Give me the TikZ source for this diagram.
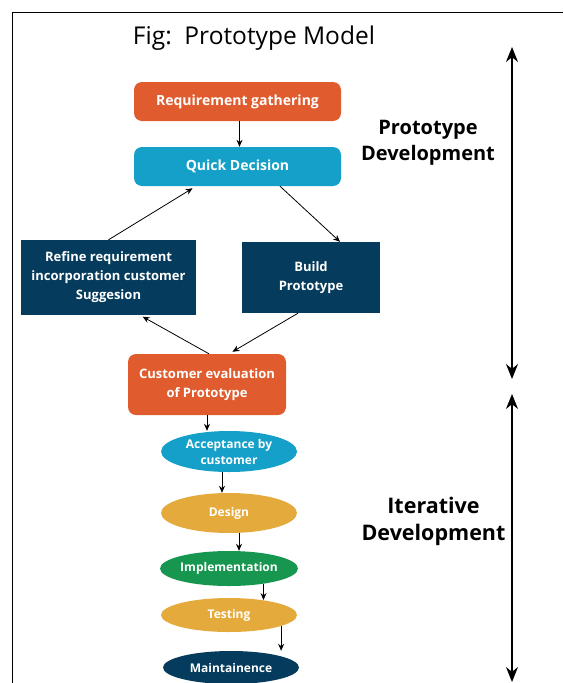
\documentclass[tikz,border=0pt]{standalone}
\usepackage{fontspec}
\setmainfont{Open Sans}
\usetikzlibrary{arrows.meta,shapes.geometric}
\definecolor{protoorange}{HTML}{E05C2E}
\definecolor{protocyan}{HTML}{14A0C8}
\definecolor{protonavy}{HTML}{053B5C}
\definecolor{protoyellow}{HTML}{E5AA3C}
\definecolor{protogreen}{HTML}{17964F}
\begin{document}
\begin{tikzpicture}[x=1pt,y=-1pt,
  stage/.style={rectangle,rounded corners=8pt,inner sep=0pt,text=white,
    font=\bfseries\fontsize{14}{19}\selectfont,align=center},
  block/.style={rectangle,fill=protonavy,inner sep=0pt,text=white,
    font=\bfseries\fontsize{13}{19}\selectfont,align=center},
  phase/.style={ellipse,minimum width=136pt,inner sep=0pt,text=white,
    font=\bfseries\fontsize{12}{16}\selectfont,align=center},
  flow/.style={-{Stealth[length=7pt,width=6pt]},line width=0.8pt},
  span/.style={{Stealth[length=15pt,width=12pt]}-{Stealth[length=15pt,width=12pt]},line width=1.3pt}]
\useasboundingbox (0,0) rectangle (563,683);
\draw[line width=1pt] (12,683) -- (12,12) -- (563,12);
\node (title) at (254,38) {\fontsize{24.5}{26}\selectfont Fig:\ \ Prototype Model};

% prototype development
\node[stage,fill=protoorange,minimum width=207pt,minimum height=39pt] (req) at (237.5,101.5) {Requirement gathering};
\node[stage,fill=protocyan,minimum width=207pt,minimum height=39pt] (quick) at (237.5,166.5) {Quick Decision};
\node[block,minimum width=175pt,minimum height=75pt] (refine) at (108.5,277.5) {Refine requirement\\incorporation customer\\Suggesion};
\node[block,minimum width=138pt,minimum height=71pt] (build) at (311,277.5) {Build\\Prototype};
\node[stage,fill=protoorange,minimum width=158pt,minimum height=61pt,font=\bfseries\fontsize{13}{19}\selectfont] (eval) at (207,384.5) {Customer evaluation\\of Prototype};

\draw[flow] ([xshift=2]req.south) -- ([xshift=2]quick.north);
\draw[flow] ([xshift=42.5]quick.south) -- ([xshift=29]build.north);
\draw[flow,shorten >=4pt] (refine.north) -- ([xshift=-41.5]quick.south);
\draw[flow,shorten >=3pt] ([xshift=2]eval.north) -- ([xshift=31.5]refine.south);
\draw[flow,shorten >=4pt] ([xshift=-13]build.south) -- ([xshift=22]eval.north);

% iterative development
\node[phase,fill=protocyan,minimum height=41pt] (accept) at (229,451.5) {Acceptance by\\customer};
\node[phase,fill=protoyellow,minimum height=40pt] (design) at (229,513) {Design};
\node[phase,fill=protogreen,minimum height=35pt] (impl) at (229,568.5) {Implementation};
\node[phase,fill=protoyellow,minimum height=34pt] (test) at (229,615) {Testing};
\node[phase,fill=protonavy,minimum height=33pt] (maint) at (231,667.5) {Maintainence};

\draw[flow] (eval.south) -- (eval.south |- accept.north);
\draw[flow] ([xshift=-7]accept.south) -- ([xshift=-7]design.north);
\draw[flow] ([xshift=10]design.south) -- ([xshift=10]impl.north);
\draw[flow] (impl.-24) -- (impl.-24 |- test.24);
\draw[flow] (test.-12) -- (test.-12 |- maint.north);

% phases
\node[font=\bfseries\fontsize{20}{26}\selectfont,align=center] (protolabel) at (428,143) {Prototype\\Development};
\node[font=\bfseries\fontsize{21.5}{27}\selectfont,align=center] (iterlabel) at (433.5,521) {Iterative\\Development};
\coordinate (ptop) at (512,47);
\coordinate (pbot) at (512,379);
\coordinate (itop) at (512,394);
\coordinate (ibot) at (512,682);
\draw[span] (ptop) -- (pbot);
\draw[span] (itop) -- (ibot);
\end{tikzpicture}
\end{document}
